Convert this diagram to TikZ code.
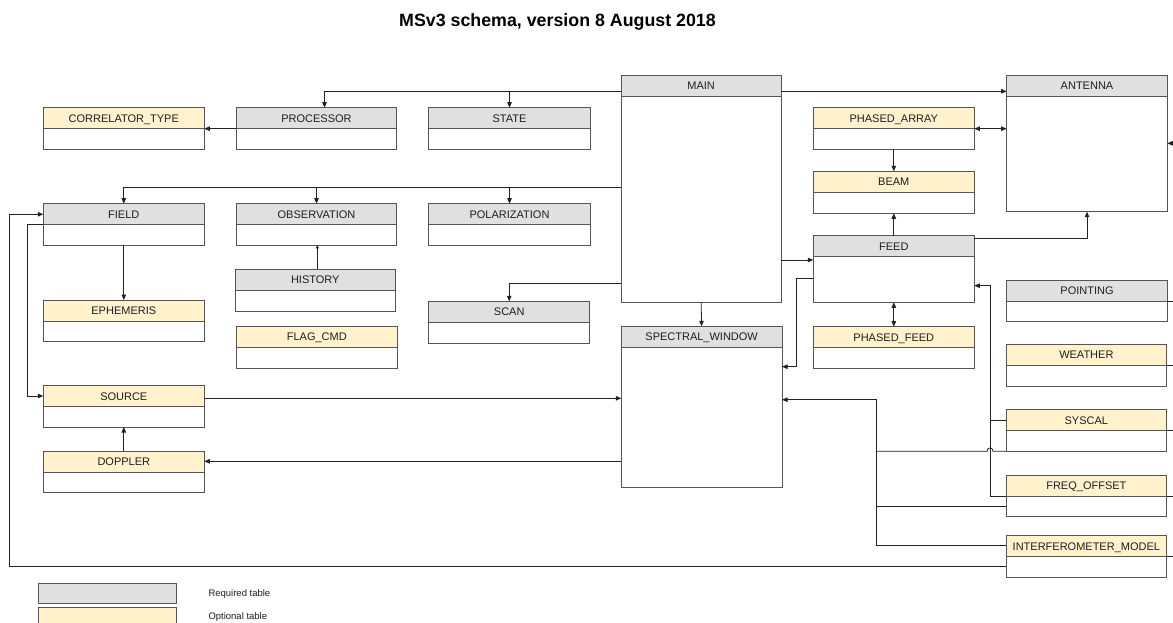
\documentclass[tikz,border=0pt]{standalone}
\usepackage{fontspec}
\setmainfont{Liberation Sans}
\usetikzlibrary{arrows.meta,calc}

\definecolor{reqfill}{HTML}{E0E0E0}
\definecolor{optfill}{HTML}{FFF2CC}
\definecolor{edgegray}{HTML}{555555}
\definecolor{wire}{HTML}{222222}
\definecolor{labelink}{HTML}{1E1E1E}

\tikzset{
  tblframe/.style={draw=edgegray, line width=0.9pt, inner sep=0pt, outer sep=0pt, anchor=north west},
  tbltext/.style={font=\fontsize{11}{13}\selectfont, text=labelink, inner sep=0pt, text height=7.9pt, text depth=0pt},
  wireline/.style={draw=wire, line width=0.8pt},
  link/.style={wireline, -{Triangle[length=5.5pt,width=4.5pt]}},
  bilink/.style={wireline, {Triangle[length=5.5pt,width=4.5pt]}-{Triangle[length=5.5pt,width=4.5pt]}},
  smalllink/.style={wireline, -{Triangle[length=3pt,width=3pt]}},
  legendtext/.style={font=\fontsize{9.5}{11}\selectfont, text=labelink, anchor=west, inner sep=0pt},
}

% \mstable{name}{left}{top}{width}{height}{header fill}{title}
\newcommand\mstable[7]{%
  \fill[#6] (#2,#3) rectangle ({#2+#4},{#3+21});
  \draw[draw=edgegray, line width=0.9pt] (#2,{#3+21}) -- ({#2+#4},{#3+21});
  \node[tblframe, minimum width=#4pt, minimum height=#5pt] (#1) at (#2,#3) {};
  \node[tbltext] (#1-t) at ({#2+#4/2},{#3+10.7}) {#7};
}

\begin{document}
\begin{tikzpicture}[x=1pt,y=-1pt]
\useasboundingbox (0,0) rectangle (1173,623);
\fill[white] (0,0) rectangle (1173,623);

\node[font=\bfseries\fontsize{17.8}{20}\selectfont, text=black] (title) at (557.5,21.7) {MSv3 schema, version 8 August 2018};

% tables
\mstable{corr}{43.3}{107.7}{161}{41.6}{optfill}{CORRELATOR\_TYPE}
\mstable{proc}{236.3}{107.7}{160.4}{41.6}{reqfill}{PROCESSOR}
\mstable{state}{428.7}{107.7}{161.6}{41.6}{reqfill}{STATE}
\mstable{main}{621.3}{75}{159.7}{227.3}{reqfill}{MAIN}
\mstable{antenna}{1006.7}{75}{160.6}{136.7}{reqfill}{ANTENNA}
\mstable{pa}{813.3}{107.7}{161}{41.6}{optfill}{PHASED\_ARRAY}
\mstable{field}{43.3}{203.7}{161}{41.6}{reqfill}{FIELD}
\mstable{obs}{236.3}{203.7}{160.4}{41.6}{reqfill}{OBSERVATION}
\mstable{pol}{428.7}{203.7}{161.6}{41.6}{reqfill}{POLARIZATION}
\mstable{beam}{813.3}{171.3}{161}{42}{optfill}{BEAM}
\mstable{feed}{813.3}{235.7}{161}{66.6}{reqfill}{FEED}
\mstable{hist}{235.3}{269}{160}{42}{reqfill}{HISTORY}
\mstable{eph}{43.3}{300}{161}{41.7}{optfill}{EPHEMERIS}
\mstable{scan}{428.7}{301.3}{161}{41.7}{reqfill}{SCAN}
\mstable{pointing}{1006.7}{280}{160.6}{41.7}{reqfill}{POINTING}
\mstable{spw}{621.3}{326.3}{160.7}{161}{reqfill}{SPECTRAL\_WINDOW}
\mstable{flag}{236.3}{326.3}{161}{42}{optfill}{FLAG\_CMD}
\mstable{pf}{813.3}{326.7}{161}{41.6}{optfill}{PHASED\_FEED}
\mstable{weather}{1006}{344.3}{160.7}{41.7}{optfill}{WEATHER}
\mstable{source}{43.3}{385.7}{161}{41.3}{optfill}{SOURCE}
\mstable{syscal}{1006}{409.7}{160.7}{41.6}{optfill}{SYSCAL}
\mstable{doppler}{43.3}{451}{161}{41.3}{optfill}{DOPPLER}
\mstable{freq}{1006}{475.3}{160.7}{41.4}{optfill}{FREQ\_OFFSET}
\mstable{im}{1006}{535.7}{160.7}{41.3}{optfill}{INTERFEROMETER\_MODEL}

% links out of MAIN
\draw[link] ([yshift=-16.3pt]main.north west) -| ([xshift=8pt]proc.north);
\draw[link] ([yshift=-16.3pt]main.north west) -| (state.north);
\draw[link] ([yshift=-16.3pt]main.north east) -- ([yshift=-16.3pt]antenna.north west);
\draw[link] ([yshift=-112.3pt]main.north west) -| (field.north);
\draw[link] ([yshift=-112.3pt]main.north west) -| (obs.north);
\draw[link] ([yshift=-112.3pt]main.north west) -| (pol.north);
\draw[link] ([yshift=-208.7pt]main.north west) -| (scan.north);
\draw[link] (main.south) -- (spw.north);
\coordinate (feedIn) at ([yshift=-24.3pt]feed.north west);
\draw[link] (main.east |- feedIn) -- (feedIn);

% feed, beam, phased array, antenna
\coordinate (spwFeed) at ([yshift=-40.4pt]spw.north east);
\draw[link] ([yshift=-42.6pt]feed.north west) -- ++(-17,0) |- (spwFeed);
\coordinate (paR) at ([yshift=-21pt]pa.north east);
\draw[bilink] (paR) -- (antenna.west |- paR);
\draw[link] (pa.south) -- (beam.north);
\draw[link] (feed.north) -- (beam.south);
\draw[link] ([yshift=-2.6pt]feed.north east) -| (antenna.south);
\draw[bilink] (feed.south) -- (pf.north);

% syscal and freq_offset into feed
\coordinate (feedR) at ([yshift=-50pt]feed.north east);
\draw[link] ([yshift=-20.7pt]freq.north west) -- ++(-16,0) |- (feedR);
\draw[wireline] ([yshift=-10.6pt]syscal.north west) -- ++(-16,0);

% bus into the right side of spectral_window
\coordinate (spwR) at ([yshift=-73.4pt]spw.north east);
\coordinate (busX) at ([xshift=-129.3pt]im.north west);
\draw[link] ([yshift=-10pt]im.north west) -- ++(-129.3,0) |- (spwR);
\draw[wireline] ([yshift=-31.4pt]freq.north west) -- ++(-129.3,0);
\coordinate (hopR) at ([xshift=-13pt]syscal.south west);
\coordinate (hopL) at ([xshift=-19pt]syscal.south west);
\draw[wireline] (syscal.south west) -- (hopR)
  .. controls ([yshift=4.5pt]hopR) and ([yshift=4.5pt]hopL) .. (hopL)
  -- (busX |- syscal.south west);

% long return into field
\draw[link] ([yshift=-30.6pt]im.north west) -- ++(-996.7,0) |- ([yshift=-10.6pt]field.north west);

% left column
\draw[link] ([yshift=-20.6pt]field.north west) -- ++(-16,0) |- ([yshift=-10.3pt]source.north west);
\draw[link] (field.south) -- (eph.north);
\draw[smalllink] ([xshift=2pt]hist.north) -- ([xshift=2pt]hist.north |- obs.south);
\coordinate (srcR) at ([yshift=-12.6pt]source.north east);
\draw[link] (srcR) -- (spw.west |- srcR);
\coordinate (dopR) at ([yshift=-10.3pt]doppler.north east);
\draw[link] (spw.west |- dopR) -- (dopR);
\draw[link] (doppler.north) -- (source.south);
\coordinate (corrR) at ([yshift=-21pt]corr.north east);
\draw[link] (proc.west |- corrR) -- (corrR);

% links continuing past the right margin
\foreach \t in {pointing,weather,syscal,freq,im}
  \draw[wireline] ([yshift=-21pt]\t.north east) -- ++(10,0);
\coordinate (antRim) at ([xshift=10pt,yshift=-68.3pt]antenna.north east);
\draw[link] (antRim) -- (antenna.east |- antRim);

% legend
\node[draw=edgegray, line width=0.9pt, fill=reqfill, minimum width=138pt, minimum height=19.4pt, anchor=north west, inner sep=0pt] (legreq) at (37.7,583.3) {};
\node[legendtext] (legreq-t) at (208.3,593.7) {Required table};
\node[draw=edgegray, line width=0.9pt, fill=optfill, minimum width=138pt, minimum height=20pt, anchor=north west, inner sep=0pt] (legopt) at (37.7,607.3) {};
\node[legendtext] (legopt-t) at (208.3,617.3) {Optional table};
\end{tikzpicture}
\end{document}
